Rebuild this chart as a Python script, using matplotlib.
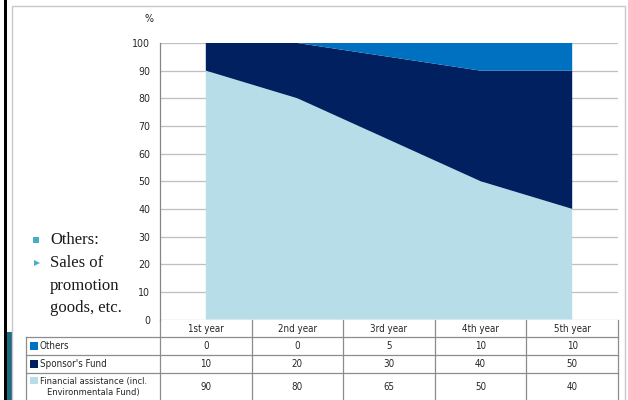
import matplotlib
matplotlib.use("Agg")
import matplotlib.pyplot as plt
from matplotlib.patches import Rectangle
from matplotlib import font_manager as fm
import numpy as np

categories = ["1st year", "2nd year", "3rd year", "4th year", "5th year"]
financial = [90, 80, 65, 50, 40]
sponsor = [10, 20, 30, 40, 50]
others = [0, 0, 5, 10, 10]
series_names = ["Others", "Sponsor's Fund", "Financial assistance (incl.\nEnvironmentala Fund)"]
series_values = [others, sponsor, financial]
colors = {"Others": "#0070C0", "Sponsor's Fund": "#002060",
          "Financial assistance (incl.\nEnvironmentala Fund)": "#B7DDE8"}
yticks = list(range(0, 101, 10))

# choose a condensed sans font (Calibri-like narrow look)
fl = fm.fontManager.ttflist
names = {f.name for f in fl}
tstretch = "normal"
if "Liberation Sans Narrow" in names:
    tfont = ["Liberation Sans Narrow", "DejaVu Sans"]
    tsize = 8.2
elif any(f.name == "DejaVu Sans" and str(f.stretch) in ("condensed", "semi-condensed") for f in fl):
    tfont = ["DejaVu Sans"]
    tstretch = "condensed"
    tsize = 7.0
else:
    tfont = ["Liberation Sans", "DejaVu Sans"]
    tsize = 6.8

W, H = 628, 400
fig = plt.figure(figsize=(W / 100, H / 100), dpi=100)
fig.patch.set_facecolor("white")


def tt(axx, x, y, s, **kw):
    kw.setdefault("fontsize", tsize)
    kw.setdefault("color", "#262626")
    return axx.text(x, y, s, family=tfont, fontstretch=tstretch, **kw)


# overlay in pixel coords
ov = fig.add_axes([0, 0, 1, 1])
ov.set_xlim(0, W)
ov.set_ylim(H, 0)
ov.axis("off")

# slide frame decorations
ov.add_patch(Rectangle((6.5, 332), 5, 68, color="#1D6B80", lw=0))
ov.add_patch(Rectangle((4, 0), 3, H, color="black", lw=0))
ov.add_patch(Rectangle((12, 5.5), 613, 400, fill=False, ec="#C8C8C8", lw=1))

# plot area
L, R, T, B = 160, 618, 43, 319.5
ax = fig.add_axes([L / W, 1 - B / H, (R - L) / W, (B - T) / H])
x = np.arange(len(categories))
ax.stackplot(x, financial, sponsor, others,
             colors=[colors[series_names[2]], colors[series_names[1]], colors[series_names[0]]],
             lw=0)
ax.set_xlim(-0.5, len(categories) - 0.5)
ax.set_ylim(0, 100)
ax.set_yticks(yticks)
ax.set_yticklabels([str(v) for v in yticks])
for lab in ax.get_yticklabels():
    lab.set_family(tfont)
    lab.set_fontstretch(tstretch)
    lab.set_fontsize(tsize + 0.6)
    lab.set_color("#262626")
ax.set_xticks([])
ax.tick_params(axis="y", length=0, pad=7)
for yv in yticks:
    ax.axhline(yv, color="#BFBFBF", lw=0.9, zorder=0)
ax.set_axisbelow(True)
for s in ["top", "right", "bottom"]:
    ax.spines[s].set_visible(False)
ax.spines["left"].set_color("#868686")
ax.spines["left"].set_linewidth(0.9)
ax.patch.set_alpha(0)
tt(ov, 149, 19, "%", fontsize=tsize + 0.6, ha="center", va="center")

# data table
gc = "#8C8C8C"
colw = (R - L) / len(categories)
rows_y = [320, 337, 355, 373, 400]
ov.plot([L, L], [320, 400], color=gc, lw=0.9)
for i in range(1, len(categories) + 1):
    ov.plot([L + i * colw, L + i * colw], [320, 400], color=gc, lw=0.9)
ov.plot([26, 26], [337, 400], color=gc, lw=0.9)
for yy in rows_y[1:4]:
    ov.plot([26, R], [yy, yy], color=gc, lw=0.9)
for i, c in enumerate(categories):
    tt(ov, L + (i + 0.5) * colw, 328.5, c, ha="center", va="center")
for r, (name, vals) in enumerate(zip(series_names, series_values)):
    y0, y1 = rows_y[r + 1], rows_y[r + 2]
    yc = (y0 + y1) / 2
    for i, v in enumerate(vals):
        tt(ov, L + (i + 0.5) * colw, yc, str(v), ha="center", va="center")
    if "\n" in name:
        ov.add_patch(Rectangle((29.5, 377), 8, 7, color=colors[name], lw=0))
        tt(ov, 40, 387, name, ha="left", va="center", multialignment="center",
           linespacing=1.15, fontsize=tsize - 0.3)
    else:
        ov.add_patch(Rectangle((29.5, yc - 4), 8, 8, color=colors[name], lw=0))
        tt(ov, 40, yc, name, ha="left", va="center")

# side bullets
sfont = ["Liberation Serif", "DejaVu Serif"]
ov.add_patch(Rectangle((33, 237), 6, 6, color="#4BACC6", lw=0))
ov.plot([36.5], [263], marker=">", color="#4BACC6", ms=5, mew=0)
for txt, yy in [("Others:", 240), ("Sales of", 263), ("promotion", 286), ("goods, etc.", 308)]:
    ov.text(50, yy, txt, fontsize=12, family=sfont, ha="left", va="center", color="#1a1a1a")

fig.savefig("out.png", dpi=100)
